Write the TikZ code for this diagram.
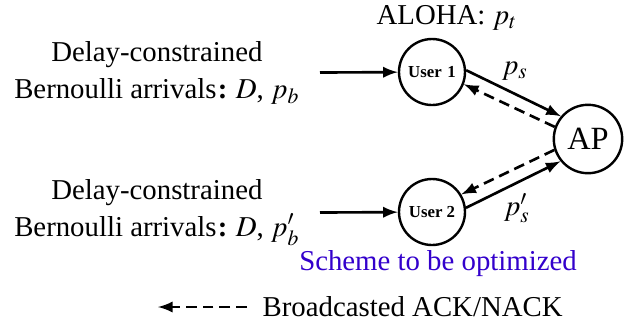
\documentclass[tikz,border=0pt]{standalone}
\usepackage{mathptmx}
\usepackage{fontspec}
\setmainfont{Liberation Serif}
\usetikzlibrary{positioning}
\definecolor{schemeblue}{RGB}{51,0,204}
\newcommand{\bcolon}{\kern0.5pt\textbf{:}\kern3.5pt}

\begin{document}
\begin{tikzpicture}[
    x=0.4167pt,y=-0.4167pt,
    font=\fontsize{12}{15.4}\selectfont,
    user/.style={circle,draw=black,line width=1pt,inner sep=0pt,minimum size=27.5pt,font=\fontsize{7}{8}\selectfont\bfseries},
    apnode/.style={circle,draw=black,line width=1pt,inner sep=0pt,minimum size=28.5pt,font=\fontsize{13.5}{16}\selectfont},
    arrtxt/.style={align=center},
    arr/.style={line width=1.1pt,-latex},
    ack/.style={line width=1.1pt,-latex,dash pattern=on 4.5pt off 2.5pt}
    ]
    \useasboundingbox (0,0) rectangle (633,324);
    \node (u1) [user] at (432,72) {User\,\,1};
    \node (u2) [user] at (432,212) {User 2};
    \node (ap) [apnode] at (588,139) {AP};
    \coordinate (in1) at (320,72.5);
    \coordinate (in2) at (320,212.5);
    \node (arr1) [arrtxt,left=5pt of in1] {Delay-constrained\\Bernoulli arrivals\bcolon$D$, $p_b$};
    \node (arr2) [arrtxt,left=5pt of in2] {Delay-constrained\\Bernoulli arrivals\bcolon$D$, $p'_b$};
    \node (aloha) at (447,18) {ALOHA: $p_t$};
    \node (ps) at (515,71) {$p_s$};
    \node (ps2) at (517,208) {$p'_s$};
    \node (scheme) [text=schemeblue] at (438,264) {Scheme to be optimized};
    \draw[arr] (in1) -- (u1);
    \draw[arr] (in2) -- (u2);
    \draw[arr] (u1.3) -- (ap.140);
    \draw[ack] (ap.160) -- (u1.-21);
    \draw[arr] (u2.7) -- (ap.219);
    \draw[ack] (ap.198) -- (u2.31);
    % legend
    \coordinate (lgtip) at (158,307);
    \coordinate (lgend) at (247,307);
    \node (bc) [right=3pt of lgend] {Broadcasted ACK/NACK};
    \draw[ack] (lgend) -- (lgtip);
\end{tikzpicture}
\end{document}
